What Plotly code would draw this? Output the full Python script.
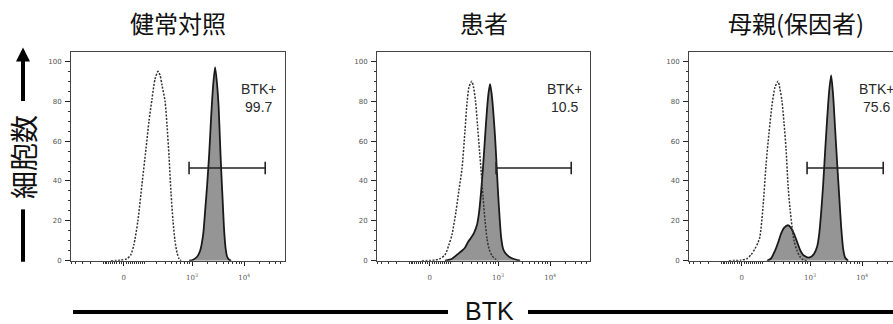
import numpy as np
import plotly.graph_objects as go

# ---------------- data (BTK intensity, % of max) ----------------
titles = ["健常対照", "患者", "母親(保因者)"]
gate_pct = ["99.7", "10.5", "75.6"]

# control (dotted) histograms
ctrl_x_1 = [-59, -13, 14, 31, 45, 65, 87, 112, 133, 156, 182, 211, 233, 256, 295, 323, 355, 388, 425, 465, 510, 558, 610]
ctrl_y_1 = [0, 0.3, 1, 3, 8, 20, 38, 56, 70, 81, 91, 95, 93, 88, 80, 68, 52, 34, 20, 10, 4, 1, 0]

ctrl_x_2 = [-35, 22, 45, 71, 93, 112, 141, 163, 191, 221, 244, 268, 305, 331, 363, 397, 435, 465, 510, 558, 610, 667, 763, 873, 997]
ctrl_y_2 = [0, 0.3, 1, 3, 8, 13, 25, 35, 46, 65, 79, 87, 90, 87, 80, 68, 55, 46, 32, 20, 11, 6, 2.5, 1, 0]

ctrl_x_3 = [-59, -4, 22, 41, 60, 76, 87, 106, 126, 148, 173, 201, 233, 256, 281, 309, 339, 371, 407, 446, 487, 558, 638, 730, 873]
ctrl_y_3 = [0, 0.3, 1, 3, 6, 9, 12, 27, 48, 64, 78, 87, 90, 86, 80, 69, 56, 38, 26, 17, 10, 5, 2, 0.5, 0]

# BTK stained (filled) histograms
btk_x_1 = [873, 1043, 1246, 1424, 1627, 1779, 1943, 2123, 2320, 2536, 2767, 3025, 3234, 3455, 3612, 3863, 4126, 4410, 4710, 5150, 5625]
btk_y_1 = [0, 0.5, 2, 5, 13, 25, 38, 53, 72, 88, 97, 88, 77, 58, 46, 30, 15, 6, 2, 0.5, 0]

btk_x_2 = [71, 112, 148, 191, 221, 256, 295, 339, 388, 425, 465, 510, 558, 610, 652, 698, 747, 799, 873, 934, 997, 1066, 1140, 1246, 1361, 1627, 1943, 2647]
btk_y_2 = [0, 1, 3, 5, 6.5, 9.4, 11.5, 14, 18, 24, 34, 47, 62, 76, 84, 88.6, 84, 76, 62, 48, 34, 22, 12, 6, 4, 2, 1, 0]

btk_x_3 = [133, 163, 201, 233, 268, 309, 371, 425, 487, 558, 638, 730, 835, 912, 1043, 1192, 1361, 1489, 1627, 1779, 1943, 2123, 2320, 2536, 2767, 3025, 3305, 3612, 3946, 4310, 4710, 5380]
btk_y_3 = [0, 1, 5, 9, 13.5, 16.5, 17.8, 16.5, 13.5, 9.5, 5.5, 3, 2, 1.6, 2, 3.5, 7, 13, 24, 38, 55, 71, 85, 93, 83, 66, 49, 33, 17, 6, 1.5, 0]

gate_start = [873, 912, 873]
gate_end = [25300, 25300, 25300]
gate_level = 46.5

ctrl_x = [ctrl_x_1, ctrl_x_2, ctrl_x_3]
ctrl_y = [ctrl_y_1, ctrl_y_2, ctrl_y_3]
btk_x = [btk_x_1, btk_x_2, btk_x_3]
btk_y = [btk_y_1, btk_y_2, btk_y_3]

major_tick_vals = [0, 1000, 10000]
major_tick_text = ["0", "10<sup>3</sup>", "10<sup>4</sup>"]
x_min_v, x_max_v = -500, 58000

# ---------------- biexponential-like display transform ----------------
U0, A, W = 1.69, 1 / np.log(10), 98.0


def biex(v):
    return U0 + A * np.arcsinh(np.asarray(v, dtype=float) / W)


minor_vals = ([-s * k for s in (10, 100) for k in range(1, 10)] +
              [s * k for s in (10, 100, 1000, 10000) for k in range(1, 10)])
minor_vals = [v for v in minor_vals if x_min_v <= v <= x_max_v and v not in major_tick_vals]

W_FIG, H_FIG = 893, 324
panel_px = [(71, 285), (377, 590), (689, 893)]
full_w = 213.0
y_dom = [1 - 264 / H_FIG, 1 - 53 / H_FIG]

fig = go.Figure()
u_lo, u_hi = float(biex(x_min_v)), float(biex(x_max_v))

for i in range(3):
    xa = "x" if i == 0 else f"x{i+1}"
    ya = "y" if i == 0 else f"y{i+1}"
    # filled BTK histogram
    fig.add_trace(go.Scatter(
        x=biex(btk_x[i]), y=btk_y[i], mode="lines", fill="tozeroy",
        fillcolor="#959595", line=dict(color="#1a1a1a", width=1.8, shape="spline", smoothing=0.7),
        xaxis=xa, yaxis=ya, showlegend=False, hoverinfo="skip"))
    # control dotted histogram
    fig.add_trace(go.Scatter(
        x=biex(ctrl_x[i]), y=ctrl_y[i], mode="lines",
        line=dict(color="#333333", width=1.5, dash="2px,1.5px", shape="spline", smoothing=0.7),
        xaxis=xa, yaxis=ya, showlegend=False, hoverinfo="skip"))
    # gate
    fig.add_trace(go.Scatter(
        x=biex([gate_start[i], gate_end[i]]), y=[gate_level, gate_level],
        mode="lines+markers", line=dict(color="#222", width=1.6),
        marker=dict(symbol="line-ns", size=9, line=dict(color="#222", width=1.6)),
        xaxis=xa, yaxis=ya, showlegend=False, hoverinfo="skip"))

    x0, x1 = panel_px[i]
    frac = (x1 - x0) / full_w
    rng = [u_lo, u_lo + frac * (u_hi - u_lo)]
    axkey = "xaxis" if i == 0 else f"xaxis{i+1}"
    aykey = "yaxis" if i == 0 else f"yaxis{i+1}"
    fig.layout[axkey] = dict(
        domain=[x0 / W_FIG, x1 / W_FIG], range=rng, anchor=ya,
        showgrid=False, zeroline=False, showline=True, linecolor="#444", linewidth=1,
        mirror=True, ticks="outside", ticklen=4, tickwidth=1.2, tickcolor="#222",
        tickmode="array", tickvals=list(biex(major_tick_vals)), ticktext=major_tick_text,
        tickfont=dict(family="DejaVu Serif", size=7, color="#555"), ticklabelstandoff=6,
        minor=dict(tickmode="array", tickvals=list(biex(minor_vals)), ticks="outside",
                   ticklen=2.5, tickwidth=0.8, tickcolor="#333", showgrid=False),
        fixedrange=True)
    fig.layout[aykey] = dict(
        domain=y_dom, range=[0, 104.5], anchor=xa,
        showgrid=False, zeroline=False, showline=True, linecolor="#444", linewidth=1,
        mirror=(i < 2), ticks="outside", ticklen=5, tickwidth=1.2, tickcolor="#222",
        tickmode="array", tickvals=[0, 20, 40, 60, 80, 100],
        tickfont=dict(family="DejaVu Sans", size=7, color="#555"), ticklabelstandoff=2,
        minor=dict(dtick=5, ticks="outside", ticklen=2.5, tickwidth=0.8, tickcolor="#333", showgrid=False),
        fixedrange=True)

    # gate label
    fig.add_annotation(x=4.27, y=81.5, xref=xa, yref=ya, text=f"BTK+<br>{gate_pct[i]}",
                       showarrow=False, align="center", xanchor="center", yanchor="middle",
                       font=dict(family="Liberation Sans", size=14, color="#2a2a2a"))
    # panel title
    cx = (x0 + x0 + full_w) / 2
    fig.add_annotation(x=cx / W_FIG, y=1 - 23 / H_FIG, xref="paper", yref="paper", text=titles[i],
                       showarrow=False, xanchor="center", yanchor="middle",
                       font=dict(family="Noto Sans CJK JP", size=24, color="#111"))

# y-axis label with arrow
fig.add_annotation(x=23 / W_FIG, y=1 - 159 / H_FIG, xref="paper", yref="paper", text="細胞数",
                   textangle=-90, showarrow=False, xanchor="center", yanchor="middle",
                   font=dict(family="Noto Sans CJK JP", size=28, color="#111"))
fig.add_annotation(x=23 / W_FIG, y=1 - 48 / H_FIG, ax=0, ay=55,
                   xref="paper", yref="paper", axref="pixel", ayref="pixel", text="",
                   showarrow=True, arrowhead=2, arrowsize=0.7, arrowwidth=4, arrowcolor="#000")
fig.add_shape(type="line", xref="paper", yref="paper", x0=23 / W_FIG, x1=23 / W_FIG,
              y0=1 - 212 / H_FIG, y1=1 - 265 / H_FIG, line=dict(color="#000", width=4))

# x label with lines
fig.add_annotation(x=489 / W_FIG, y=1 - 315 / H_FIG, xref="paper", yref="paper", text="BTK",
                   showarrow=False, xanchor="center", yanchor="middle",
                   font=dict(family="Liberation Sans", size=25, color="#111"))
fig.add_shape(type="line", xref="paper", yref="paper", x0=73 / W_FIG, x1=448 / W_FIG,
              y0=1 - 316 / H_FIG, y1=1 - 316 / H_FIG, line=dict(color="#000", width=4))
fig.add_shape(type="line", xref="paper", yref="paper", x0=528 / W_FIG, x1=1.0,
              y0=1 - 316 / H_FIG, y1=1 - 316 / H_FIG, line=dict(color="#000", width=4))

fig.update_layout(width=W_FIG, height=H_FIG, margin=dict(l=0, r=0, t=0, b=0),
                  paper_bgcolor="white", plot_bgcolor="white", showlegend=False)

fig.write_html("out.html", config={"displayModeBar": False},
               post_script="document.body.style.margin='0';document.body.style.overflow='hidden';")
